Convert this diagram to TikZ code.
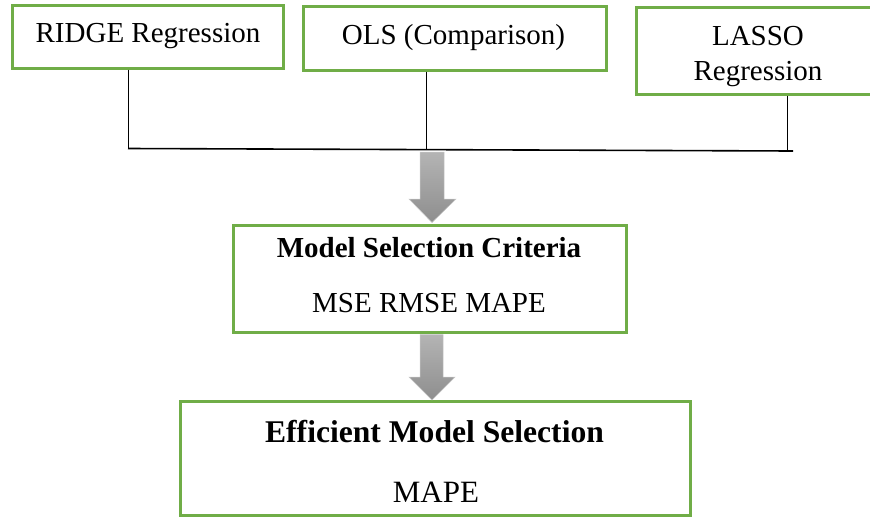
\documentclass[tikz,border=0pt]{standalone}
\usepackage{fontspec}
\setmainfont{Liberation Serif}
\definecolor{boxgreen}{HTML}{70AD47}
\definecolor{arrtop}{HTML}{B4B4B4}
\definecolor{arrbot}{HTML}{8E8E8E}
\definecolor{arredge}{HTML}{C8C8C8}
\begin{document}
\begin{tikzpicture}[x=1pt,y=-1pt,
  box/.style={draw=boxgreen, line width=3pt, rectangle, inner sep=0pt, fill=white},
  txt/.style={inner sep=0pt, anchor=base, font=\fontsize{29}{34}\selectfont},
  btxt/.style={inner sep=0pt, anchor=base, font=\fontsize{29}{34}\selectfont\bfseries},
  bigtxt/.style={inner sep=0pt, anchor=base, font=\fontsize{31}{36}\selectfont},
  bigbtxt/.style={inner sep=0pt, anchor=base, font=\fontsize{31.6}{36}\selectfont\bfseries},
  conn/.style={draw=black, line width=0.9pt},
  bus/.style={draw=black, line width=1.6pt},
  blockarrow/.style={top color=arrtop, bottom color=arrbot, draw=arredge, line width=0.5pt}
]
\useasboundingbox (0,0) rectangle (870,517);

% boxes
\node[box, minimum width=271pt, minimum height=63pt] (ridge) at (147.5,36.5) {};
\node[box, minimum width=303pt, minimum height=64pt] (ols) at (454.5,38) {};
\node[box, minimum width=280pt, minimum height=87pt] (lasso) at (776,50.5) {};
\node[box, minimum width=393pt, minimum height=107.5pt] (crit) at (429.5,279) {};
\node[box, minimum width=510pt, minimum height=113.5pt] (eff) at (435,458.5) {};

% texts
\node[txt] (tridge) at (148,42) {RIDGE Regression};
\node[txt] (tols) at (453.5,44) {OLS (Comparison)};
\node[txt] (tlasso1) at (758,45) {LASSO};
\node[txt] (tlasso2) at (758,80) {Regression};
\node[btxt] (tcrit1) at (429,257) {Model Selection Criteria};
\node[txt] (tcrit2) at (429,312) {MSE RMSE MAPE};
\node[bigbtxt] (teff1) at (434.5,442) {Efficient Model Selection};
\node[bigtxt] (teff2) at (436,502) {MAPE};

% connectors
\coordinate (j1) at (128,148.5);
\coordinate (j2) at (426.7,149.6);
\coordinate (j3) at (787,151);
\coordinate (jend) at (793,151);
\draw[conn] (ridge.south -| j1) -- (j1);
\draw[conn] (ols.south -| j2) -- (j2);
\draw[conn] (lasso.south -| j3) -- (j3);
\draw[bus] (j1) -- (jend);

% block arrows
\path[blockarrow] (420,152) -- (444,152) -- (444,199) -- (456,199) -- (432,222.5) -- (409,199) -- (420,199) -- cycle;
\path[blockarrow] (420,334.5) -- (443,334.5) -- (443,377) -- (455,377) -- (432,400) -- (409,377) -- (420,377) -- cycle;
\end{tikzpicture}
\end{document}
